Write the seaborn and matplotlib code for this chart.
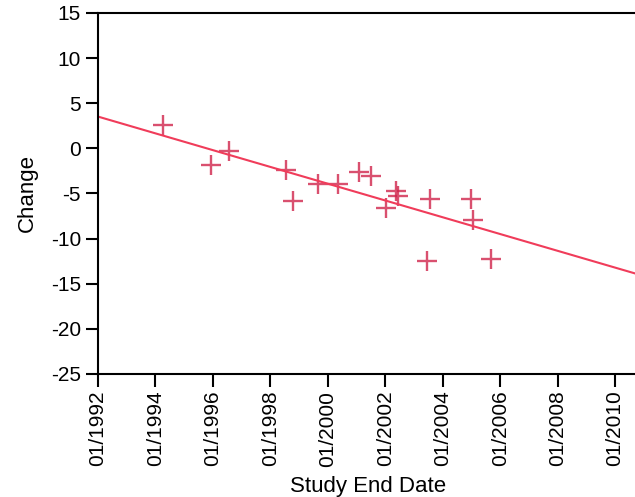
import matplotlib
matplotlib.use("Agg")
import matplotlib.pyplot as plt
import seaborn as sns
import pandas as pd

# study end dates as decimal years
end_year = [1994.28, 1995.95, 1996.58, 1998.56, 1998.79, 1999.67, 2000.37,
            2001.10, 2001.49, 2002.03, 2002.36, 2002.44, 2003.55, 2003.47,
            2004.98, 2005.07, 2005.68]
change = [2.6, -1.9, -0.3, -2.4, -5.8, -3.9, -3.9,
          -2.6, -3.1, -6.6, -4.7, -5.3, -5.6, -12.5,
          -5.6, -7.9, -12.3]
tick_years = [1992, 1994, 1996, 1998, 2000, 2002, 2004, 2006, 2008, 2010]
tick_labels = ["01/%d" % y for y in tick_years]
y_ticks = [15, 10, 5, 0, -5, -10, -15, -20, -25]

df = pd.DataFrame({"StudyEnd": end_year, "Change": change})

sns.set_style("ticks")
plt.rcParams["font.family"] = ["Liberation Sans", "DejaVu Sans"]
plt.rcParams["axes.unicode_minus"] = False
plt.rcParams["text.color"] = "black"
plt.rcParams["axes.labelcolor"] = "black"
plt.rcParams["xtick.color"] = "black"
plt.rcParams["ytick.color"] = "black"

fig = plt.figure(figsize=(6.35, 4.97), dpi=100)
ax = fig.add_axes([0.154, 0.2475, 0.85, 0.7265])
ax.set_xlim(1992, 2010.78)
ax.set_ylim(-25, 15)

sns.regplot(x="StudyEnd", y="Change", data=df, ax=ax, ci=None, truncate=False,
            marker="+", scatter_kws={"s": 220, "linewidths": 1.7, "color": "#d0244b"},
            line_kws={"color": "#f03c5a", "linewidth": 1.5})

ax.set_xlim(1992, 2010.78)
ax.set_ylim(-25, 15)
ax.set_xticks(tick_years)
ax.set_xticklabels(tick_labels, rotation=90)
ax.set_yticks(y_ticks)

ax.set_xlabel("Study End Date", fontsize=16, labelpad=7)
ax.set_ylabel("Change", fontsize=16, labelpad=9)
ax.tick_params(axis="both", labelsize=15, length=9, width=1.5, color="black",
               labelcolor="black", direction="out", pad=3)

for side in ["left", "bottom", "top"]:
    ax.spines[side].set_linewidth(1.5)
    ax.spines[side].set_color("black")
ax.spines["right"].set_visible(False)

fig.savefig("out.png", dpi=100)
